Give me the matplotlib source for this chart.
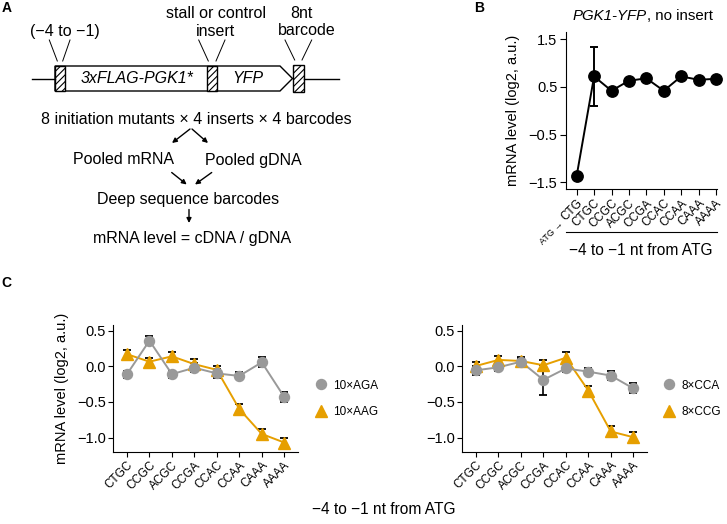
import matplotlib
matplotlib.use("Agg")
import matplotlib.pyplot as plt
from matplotlib.patches import Polygon, Rectangle
from matplotlib.lines import Line2D

plt.rcParams['font.family'] = ['Liberation Sans', 'DejaVu Sans']
plt.rcParams['hatch.linewidth'] = 0.8

# ---------------- data ----------------
b_labels = ["CTG", "CTGC", "CCGC", "ACGC", "CCGA", "CCAC", "CCAA", "CAAA", "AAAA"]
b_values = [-1.36, 0.72, 0.42, 0.63, 0.68, 0.42, 0.72, 0.65, 0.67]
b_errors = [0.0, 0.61, 0.0, 0.0, 0.0, 0.0, 0.0, 0.0, 0.0]

c_labels = ["CTGC", "CCGC", "ACGC", "CCGA", "CCAC", "CCAA", "CAAA", "AAAA"]
aga_values = [-0.11, 0.36, -0.11, -0.02, -0.10, -0.135, 0.056, -0.43]
aga_errors = [0.05, 0.065, 0.05, 0.06, 0.06, 0.05, 0.07, 0.075]
aag_values = [0.17, 0.065, 0.14, 0.03, -0.05, -0.60, -0.95, -1.07]
aag_errors = [0.06, 0.05, 0.06, 0.07, 0.06, 0.07, 0.07, 0.07]

cca_values = [-0.056, -0.014, 0.065, -0.19, -0.03, -0.075, -0.13, -0.31]
cca_errors = [0.06, 0.05, 0.05, 0.215, 0.05, 0.05, 0.06, 0.07]
ccg_values = [0.005, 0.09, 0.075, 0.015, 0.12, -0.34, -0.915, -0.995]
ccg_errors = [0.06, 0.05, 0.05, 0.08, 0.08, 0.07, 0.07, 0.07]

GREY = "#999999"
ORANGE = "#E69F00"

W, H = 727, 524
fig = plt.figure(figsize=(W / 100, H / 100), dpi=100)

def fx(px):
    return px / W

def fy(py):
    return 1 - py / H

# ---------------- overlay axes for panel A and letters ----------------
ov = fig.add_axes([0, 0, 1, 1], zorder=0)
ov.set_xlim(0, W)
ov.set_ylim(H, 0)
ov.axis("off")

for letter, (x, y) in {"A": (7, 7.5), "B": (479, 7.5), "C": (6, 283)}.items():
    ov.text(x, y, letter, fontsize=10, fontweight="bold", ha="center", va="center")

FA = 11.5
# schematic
ov.plot([32, 55], [78.5, 78.5], color="k", lw=1)
ov.plot([303.5, 339], [78.5, 78.5], color="k", lw=1)
body = Polygon([(55, 66), (280, 66), (292.5, 78.5), (280, 91), (55, 91)],
               closed=True, fill=False, edgecolor="k", lw=1)
ov.add_patch(body)
for (x0, x1, y0, y1) in [(55, 65, 66, 91), (207.3, 216.7, 66, 91), (293.3, 303.5, 65, 92)]:
    ov.add_patch(Rectangle((x0, y0), x1 - x0, y1 - y0, facecolor="white",
                           edgecolor="k", lw=1, hatch="/////"))
ov.text(137.5, 78.5, "3xFLAG-PGK1*", style="italic", fontsize=FA, ha="center", va="center")
ov.text(248, 78.5, "YFP", style="italic", fontsize=FA, ha="center", va="center")

ov.text(64.5, 31.5, "(\u22124 to \u22121)", fontsize=FA, ha="center", va="center")
ov.text(215.5, 14, "stall or control", fontsize=FA, ha="center", va="center")
ov.text(215.5, 31, "insert", fontsize=FA, ha="center", va="center")
ov.text(301.7, 13.5, "8nt", fontsize=FA, ha="center", va="center")
ov.text(306.5, 30.5, "barcode", fontsize=FA, ha="center", va="center")
for (xa, ya, xb, yb) in [(49.3, 40, 57.3, 61), (70, 40, 62.7, 61),
                         (198.7, 40, 208.3, 61), (225, 40, 216, 61),
                         (285, 40, 294.7, 60), (311.7, 40, 302, 60)]:
    ov.plot([xa, xb], [ya, yb], color="k", lw=0.7)

ov.text(196.7, 119, "8 initiation mutants \u00d7 4 inserts \u00d7 4 barcodes", fontsize=FA,
        ha="center", va="center")
ov.text(123.3, 160, "Pooled mRNA", fontsize=FA, ha="center", va="center")
ov.text(253.3, 160, "Pooled gDNA", fontsize=FA, ha="center", va="center")
ov.text(188.3, 199.5, "Deep sequence barcodes", fontsize=FA, ha="center", va="center")
ov.text(191.7, 238.5, "mRNA level = cDNA / gDNA", fontsize=FA, ha="center", va="center")

arrow_kw = dict(arrowstyle="-|>", lw=1, color="k", mutation_scale=7, shrinkA=0, shrinkB=0)
for (xs, ys, xe, ye) in [(190, 129, 172, 143), (192, 129, 208, 143),
                         (171.7, 172.5, 186.7, 184.5), (211.7, 172.5, 195, 184.5),
                         (189, 209.5, 189, 223)]:
    ov.annotate("", xy=(xe, ye), xytext=(xs, ys), arrowprops=arrow_kw)

# ---------------- panel B ----------------
axB = fig.add_axes([fx(565.7), fy(188.7), fx(716.7) - fx(565.7), fy(32) - fy(188.7)])
bx = list(range(len(b_labels)))
axB.plot(bx, b_values, color="k", lw=1.4, zorder=2)
axB.errorbar(bx[1:2], b_values[1:2], yerr=b_errors[1:2], fmt="none", ecolor="k",
             elinewidth=1.4, capsize=3.2, capthick=1.4, zorder=4)
axB.plot(bx, b_values, "o", color="k", ms=8.2, zorder=3, clip_on=False)
axB.set_xlim(-0.63, 8.04)
axB.set_ylim(-1.63, 1.65)
axB.set_yticks([-1.5, -0.5, 0.5, 1.5])
axB.set_yticklabels(["\u22121.5", "\u22120.5", "0.5", "1.5"], fontsize=10.5)
axB.set_xticks(bx)
axB.set_xticklabels(b_labels, rotation=45, ha="right", va="top", rotation_mode="anchor",
                    fontsize=8.5)
axB.set_ylabel("mRNA level (log2, a.u.)", fontsize=10.5)
axB.yaxis.set_label_coords(-0.30, 0.5)
for s in ["top", "right"]:
    axB.spines[s].set_visible(False)
for s in ["left", "bottom"]:
    axB.spines[s].set_linewidth(0.8)
axB.tick_params(length=4, width=0.8, pad=2)
axB.plot([0, 1], [-0.278, -0.278], transform=axB.transAxes, color="k", lw=0.8, clip_on=False)
axB.text(0.5, -0.395, "\u22124 to \u22121 nt from ATG", transform=axB.transAxes,
         ha="center", va="center", fontsize=11.2)
t1 = axB.text(0.045, 1.105, "PGK1-YFP", style="italic", transform=axB.transAxes,
              ha="left", va="center", fontsize=10.8)
axB.annotate(", no insert", xy=(1, 0), xycoords=t1, ha="left", va="bottom", fontsize=10.8)
ov.text(562, 222, "ATG \u2192", fontsize=6.5, rotation=45, ha="right", va="center",
        rotation_mode="anchor")

# ---------------- panel C ----------------
def panel_c(left_px, right_px, grey_vals, grey_err, or_vals, or_err, names, leg_x, ylabel):
    ax = fig.add_axes([fx(left_px), fy(451.5), fx(right_px) - fx(left_px), fy(325) - fy(451.5)])
    cx = list(range(len(c_labels)))
    ax.errorbar(cx, grey_vals, yerr=grey_err, fmt="none", ecolor="k", elinewidth=1.2,
                capsize=3, capthick=1.3, zorder=1.5)
    ax.errorbar(cx, or_vals, yerr=or_err, fmt="none", ecolor="k", elinewidth=1.2,
                capsize=3, capthick=1.3, zorder=1.5)
    ax.plot(cx, or_vals, color=ORANGE, lw=1.4, zorder=2)
    ax.plot(cx, grey_vals, color=GREY, lw=1.4, zorder=2)
    ax.plot(cx, or_vals, "^", color=ORANGE, ms=8.5, zorder=3, clip_on=False)
    ax.plot(cx, grey_vals, "o", color=GREY, ms=7.2, zorder=3.5, clip_on=False)
    ax.set_xlim(-0.61, 7.6)
    ax.set_ylim(-1.196, 0.58)
    ax.set_yticks([-1.0, -0.5, 0.0, 0.5])
    ax.set_yticklabels(["\u22121.0", "\u22120.5", "0.0", "0.5"], fontsize=10.5)
    ax.set_xticks(cx)
    ax.set_xticklabels(c_labels, rotation=45, ha="right", va="top", rotation_mode="anchor",
                       fontsize=8.5)
    for s in ["top", "right"]:
        ax.spines[s].set_visible(False)
    for s in ["left", "bottom"]:
        ax.spines[s].set_linewidth(0.8)
    ax.tick_params(length=3.5, width=0.8, pad=2)
    if ylabel:
        ax.set_ylabel("mRNA level (log2, a.u.)", fontsize=10.5)
        ax.yaxis.set_label_coords(-0.242, 0.5)
    handles = [Line2D([], [], ls="none", marker="o", color=GREY, ms=7.2),
               Line2D([], [], ls="none", marker="^", color=ORANGE, ms=8.5)]
    fig.legend(handles, names, loc="center left",
               bbox_to_anchor=(fx(leg_x), fy(399)), frameon=False, fontsize=8.5,
               handletextpad=0.43, handlelength=1.2, labelspacing=1.25, borderpad=0,
               borderaxespad=0)
    return ax

panel_c(113.3, 297.7, aga_values, aga_errors, aag_values, aag_errors,
        ["10\u00d7AGA", "10\u00d7AAG"], 314, True)
panel_c(462.3, 646.7, cca_values, cca_errors, ccg_values, ccg_errors,
        ["8\u00d7CCA", "8\u00d7CCG"], 662, False)

ov.text(384, 510, "\u22124 to \u22121 nt from ATG", fontsize=11.2, ha="center", va="center")

fig.savefig("out.png", dpi=100)
